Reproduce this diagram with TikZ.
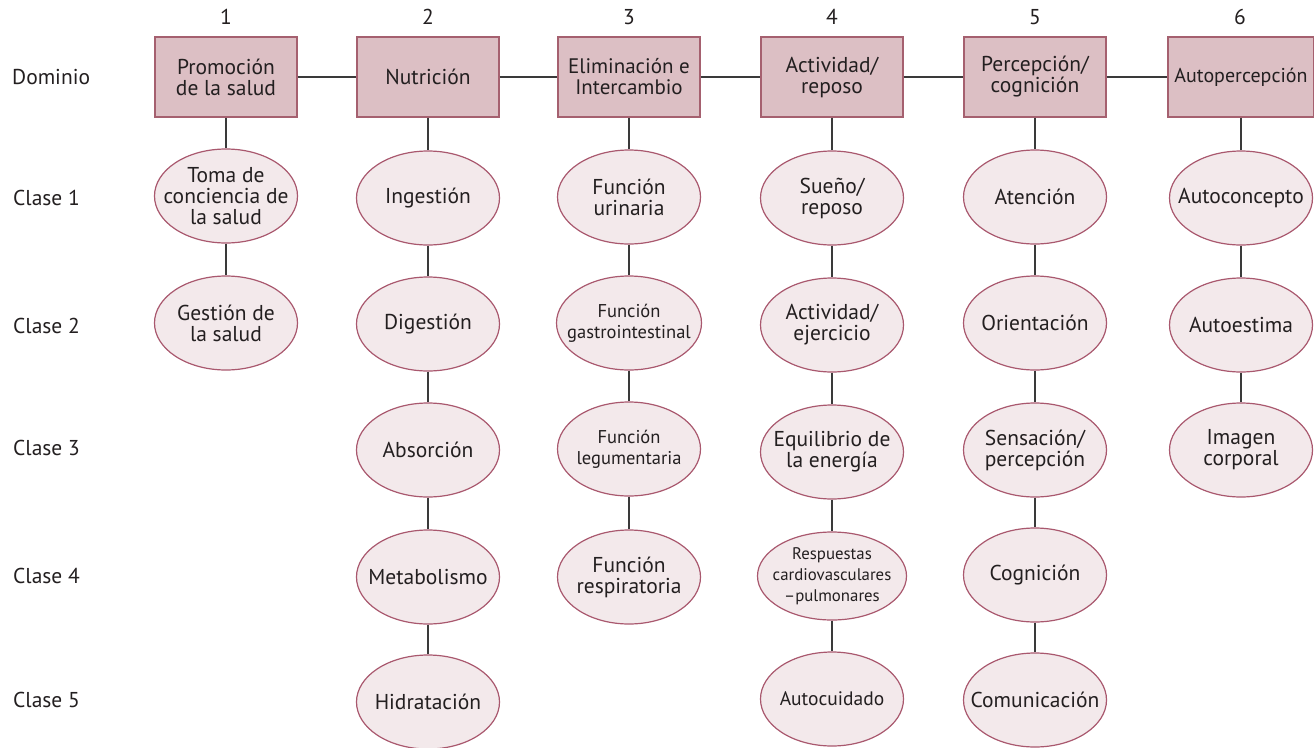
\documentclass[tikz,border=0pt]{standalone}
\usepackage{fontspec}
\setmainfont{PT Sans}
\usetikzlibrary{shapes.geometric}
\definecolor{boxfill}{HTML}{DCBFC4}
\definecolor{boxline}{HTML}{A5606F}
\definecolor{ovalfill}{HTML}{F3E9EB}
\definecolor{ovalline}{HTML}{A9586E}
\definecolor{linkcol}{HTML}{3A3A3A}
\definecolor{inkcol}{HTML}{231F20}
\tikzset{
  domainbox/.style={draw=boxline, fill=boxfill, line width=1.2pt, rectangle,
    minimum width=142pt, minimum height=80pt, inner xsep=2pt, inner ysep=2pt,
    align=center, text=inkcol, font=\fontsize{21.5}{21}\selectfont},
  classoval/.style={draw=ovalline, fill=ovalfill, line width=1.2pt, ellipse,
    minimum width=143pt, minimum height=94pt, inner xsep=-40pt, inner ysep=-20pt,
    align=center, text=inkcol, font=\fontsize{21.5}{21}\selectfont},
  smalloval/.style={classoval, font=\fontsize{18.5}{21}\selectfont},
  rowlabel/.style={text=inkcol, font=\fontsize{21.5}{21}\selectfont},
  link/.style={draw=linkcol, line width=1.2pt}
}
\begin{document}
\begin{tikzpicture}[x=1pt,y=-1pt]
\useasboundingbox (0,0) rectangle (1314,747);

% row labels
\node[rowlabel, anchor=west, inner sep=0pt] (rDom) at (12,77) {Dominio};
\node[rowlabel, anchor=west, inner sep=0pt] (rC1) at (13,198) {Clase 1};
\node[rowlabel, anchor=west, inner sep=0pt] (rC2) at (13,326) {Clase 2};
\node[rowlabel, anchor=west, inner sep=0pt] (rC3) at (13,448) {Clase 3};
\node[rowlabel, anchor=west, inner sep=0pt] (rC4) at (13,576) {Clase 4};
\node[rowlabel, anchor=west, inner sep=0pt] (rC5) at (13,700) {Clase 5};

% domain numbers
\node[rowlabel] (n1) at (226,17) {1};
\node[rowlabel] (n2) at (428,17) {2};
\node[rowlabel] (n3) at (629,17) {3};
\node[rowlabel] (n4) at (832,17) {4};
\node[rowlabel] (n5) at (1035,17) {5};
\node[rowlabel] (n6) at (1240,17) {6};

% domains
\node[domainbox] (d1) at (226,77) {Promoción\\de la salud};
\node[domainbox] (d2) at (428,77) {Nutrición};
\node[domainbox, font=\fontsize{21}{21}\selectfont] (d3) at (629,77) {Eliminación e\\Intercambio};
\node[domainbox] (d4) at (832,77) {Actividad/\\reposo};
\node[domainbox] (d5) at (1035,77) {Percepción/\\cognición};
\node[domainbox, minimum width=146pt, font=\fontsize{20}{21}\selectfont] (d6) at (1241,77) {Autopercepción};

% classes, domain 1
\node[classoval] (a1) at (226,196) {Toma de\\conciencia de\\la salud};
\node[classoval] (a2) at (226,323) {Gestión de\\la salud};
% domain 2
\node[classoval] (b1) at (428,198) {Ingestión};
\node[classoval] (b2) at (428,324) {Digestión};
\node[classoval] (b3) at (428,450) {Absorción};
\node[classoval] (b4) at (428,577) {Metabolismo};
\node[classoval] (b5) at (428,702) {Hidratación};
% domain 3
\node[classoval] (c1) at (629,197) {Función\\urinaria};
\node[smalloval, minimum width=145pt] (c2) at (629,323) {Función\\gastrointestinal};
\node[smalloval] (c3) at (629,449) {Función\\legumentaria};
\node[classoval] (c4) at (629,577) {Función\\respiratoria};
% domain 4
\node[classoval] (e1) at (832,198) {Sueño/\\reposo};
\node[classoval] (e2) at (832,325) {Actividad/\\ejercicio};
\node[classoval] (e3) at (832,452) {Equilibrio de\\la energía};
\node[smalloval, minimum width=149pt, minimum height=88pt,
      font=\fontsize{16.8}{21}\selectfont] (e4) at (832,576) {Respuestas\\cardiovasculares\\–pulmonares};
\node[smalloval, font=\fontsize{19.5}{21}\selectfont] (e5) at (832,699) {Autocuidado};
% domain 5
\node[classoval] (f1) at (1035,197) {Atención};
\node[classoval] (f2) at (1035,323) {Orientación};
\node[classoval] (f3) at (1035,450) {Sensación/\\percepción};
\node[classoval] (f4) at (1035,575) {Cognición};
\node[classoval] (f5) at (1035,700) {Comunicación};
% domain 6
\node[classoval] (g1) at (1241,198) {Autoconcepto};
\node[classoval] (g2) at (1241,325) {Autoestima};
\node[classoval] (g3) at (1241,450) {Imagen\\corporal};

% links between domains
\foreach \p/\q in {d1/d2,d2/d3,d3/d4,d4/d5,d5/d6}
  \draw[link] (\p.east) -- (\q.west);

% links down each column
\foreach \p/\q in {d1/a1,a1/a2,
                   d2/b1,b1/b2,b2/b3,b3/b4,b4/b5,
                   d3/c1,c1/c2,c2/c3,c3/c4,
                   d4/e1,e1/e2,e2/e3,e3/e4,e4/e5,
                   d5/f1,f1/f2,f2/f3,f3/f4,f4/f5,
                   d6/g1,g1/g2,g2/g3}
  \draw[link] (\p.south) -- (\q.north);
\end{tikzpicture}
\end{document}
